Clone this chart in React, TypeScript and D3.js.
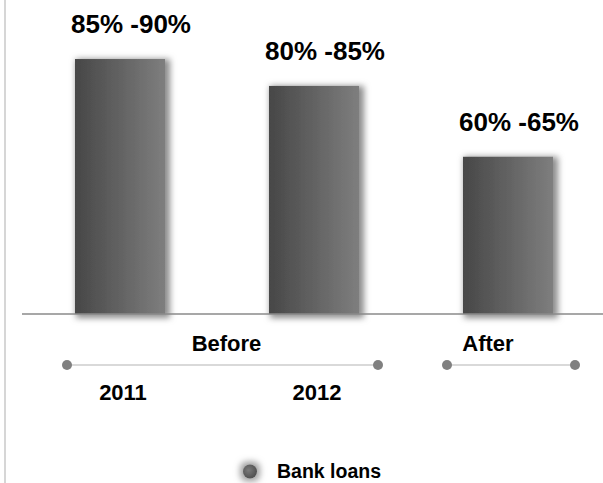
import React from "react";
import * as d3 from "d3";

const categories = ["2011", "2012", "After"];
const values = [90, 80.5, 55.5];
const valueLabels = ["85% -90%", "80% -85%", "60% -65%"];
const yearLabels = ["2011", "2012", ""];
const groups = [
  { label: "Before", members: ["2011", "2012"] },
  { label: "After", members: ["After"] },
];
const legendLabel = "Bank loans";

const W = 603;
const H = 483;
const FONT = "'Liberation Sans', Arial, Helvetica, sans-serif";

export default function App() {
  const x = d3
    .scaleBand<string>()
    .domain(categories)
    .range([23, 605])
    .paddingInner(0.536)
    .paddingOuter(0.268);
  const y = d3.scaleLinear().domain([0, 100]).range([314, 30.7]);
  const bw = x.bandwidth();
  const baseY = y(0);
  const lineY = 365;

  const groupSpans = groups.map((g, i) => {
    const first = x(g.members[0])!;
    const last = x(g.members[g.members.length - 1])! + bw;
    const start = first - (i === 0 ? 8 : 16);
    const end = last + (i === 0 ? 19 : 22);
    return { ...g, start, end };
  });
  const groupLabelX = [226.5, 488];

  return (
    <svg
      width={W}
      height={H}
      style={{ position: "absolute", left: 0, top: 0, display: "block" }}
      fontFamily={FONT}
    >
      <defs>
        <linearGradient id="barGrad" x1="0" x2="1" y1="0" y2="0">
          <stop offset="0%" stopColor="#474747" />
          <stop offset="100%" stopColor="#7e7e7e" />
        </linearGradient>
        <radialGradient id="legGrad" cx="0.4" cy="0.4" r="0.7">
          <stop offset="0%" stopColor="#7a7a7a" />
          <stop offset="100%" stopColor="#4a4a4a" />
        </radialGradient>
        <filter id="shadow" x="-30%" y="-30%" width="160%" height="160%">
          <feMorphology in="SourceAlpha" operator="dilate" radius="2" result="dil" />
          <feGaussianBlur in="dil" stdDeviation="3" result="blur" />
          <feOffset in="blur" dx="2.5" dy="2" result="off" />
          <feFlood floodColor="#8c8c8c" floodOpacity="1" />
          <feComposite in2="off" operator="in" result="sh" />
          <feMerge>
            <feMergeNode in="sh" />
            <feMergeNode in="SourceGraphic" />
          </feMerge>
        </filter>
        <filter id="legShadow" x="-150%" y="-150%" width="400%" height="400%">
          <feMorphology in="SourceAlpha" operator="dilate" radius="3" result="dil" />
          <feGaussianBlur in="dil" stdDeviation="3" result="blur" />
          <feFlood floodColor="#a0a0a0" floodOpacity="1" />
          <feComposite in2="blur" operator="in" result="sh" />
          <feMerge>
            <feMergeNode in="sh" />
            <feMergeNode in="SourceGraphic" />
          </feMerge>
        </filter>
      </defs>

      <rect x={0} y={0} width={W} height={H} fill="#ffffff" />
      <line x1={5} x2={5} y1={0} y2={H} stroke="#d6d6d6" strokeWidth={2} />

      {categories.map((c, i) => (
        <rect
          key={c}
          x={x(c)!}
          y={y(values[i])}
          width={bw}
          height={baseY - y(values[i])}
          fill="url(#barGrad)"
          filter="url(#shadow)"
        />
      ))}

      <line x1={22} x2={W} y1={baseY} y2={baseY} stroke="#8a8a8a" strokeWidth={1.5} />

      {categories.map((c, i) => (
        <text
          key={"v" + c}
          x={x(c)! + bw / 2 + 11}
          y={y(values[i]) - 26}
          textAnchor="middle"
          fontSize={26}
          fontWeight="bold"
          fill="#000"
        >
          {valueLabels[i]}
        </text>
      ))}

      {groupSpans.map((g, i) => (
        <g key={g.label}>
          <line x1={g.start} x2={g.end} y1={lineY} y2={lineY} stroke="#cccccc" strokeWidth={1.5} />
          <circle cx={g.start} cy={lineY} r={5} fill="#808080" />
          <circle cx={g.end} cy={lineY} r={5} fill="#808080" />
          <text
            x={groupLabelX[i]}
            y={351}
            textAnchor="middle"
            fontSize={22}
            fontWeight="bold"
            fill="#000"
          >
            {g.label}
          </text>
        </g>
      ))}

      {categories.map((c, i) =>
        yearLabels[i] ? (
          <text
            key={"y" + c}
            x={x(c)! + bw / 2 + 3}
            y={400}
            textAnchor="middle"
            fontSize={22}
            fontWeight="bold"
            fill="#000"
          >
            {yearLabels[i]}
          </text>
        ) : null
      )}

      <g>
        <circle cx={250} cy={471.5} r={7} fill="url(#legGrad)" filter="url(#legShadow)" />
        <text x={277} y={478} fontSize={19.5} fontWeight="bold" fill="#000">
          {legendLabel}
        </text>
      </g>
    </svg>
  );
}
